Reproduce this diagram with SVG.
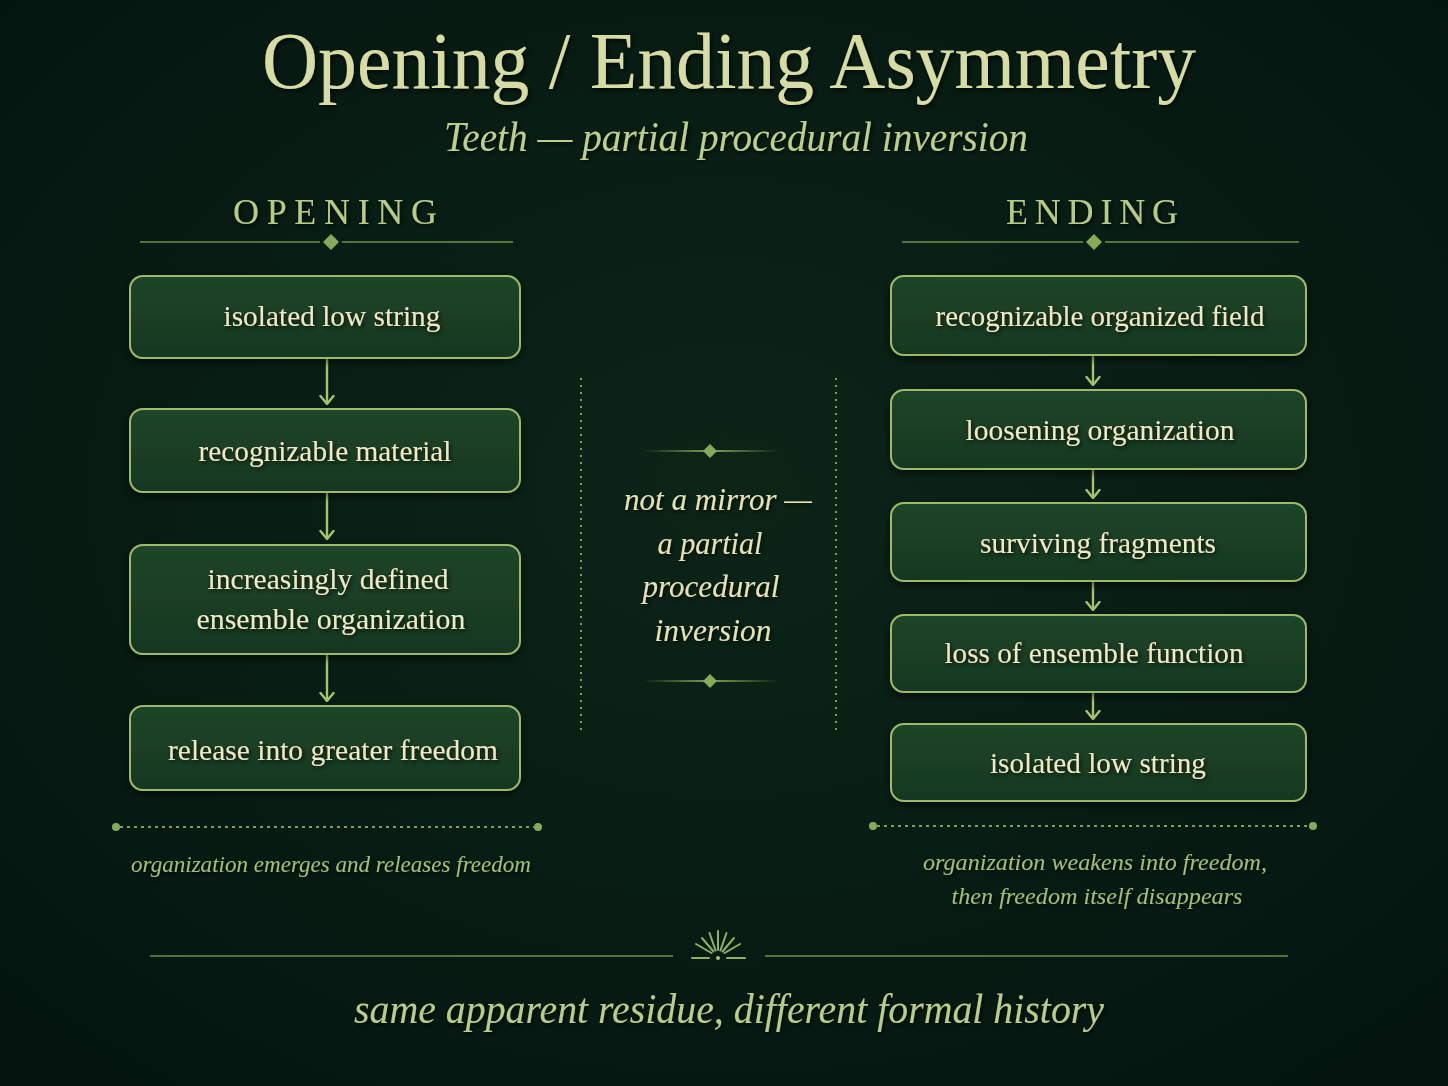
<svg xmlns="http://www.w3.org/2000/svg" width="1448" height="1086" viewBox="0 0 1448 1086">
<defs>
<radialGradient id="bg" cx="50%" cy="45%" r="70%">
<stop offset="0" stop-color="#0c2517"/>
<stop offset="1" stop-color="#041510"/>
</radialGradient>
<linearGradient id="boxg" x1="0" y1="0" x2="0" y2="1">
<stop offset="0" stop-color="#1f4529"/>
<stop offset="1" stop-color="#163820"/>
</linearGradient>
<linearGradient id="fadeL" x1="0" y1="0" x2="1" y2="0">
<stop offset="0" stop-color="#7fa055" stop-opacity="0"/>
<stop offset="0.5" stop-color="#7fa055"/>
<stop offset="1" stop-color="#7fa055" stop-opacity="0"/>
</linearGradient>
<filter id="sh" x="-10%" y="-30%" width="120%" height="160%">
<feDropShadow dx="1.5" dy="2" stdDeviation="2" flood-color="#000" flood-opacity="0.75"/>
</filter>
<filter id="bsh" x="-10%" y="-20%" width="120%" height="150%">
<feDropShadow dx="0" dy="3" stdDeviation="4" flood-color="#000" flood-opacity="0.6"/>
</filter>
<marker id="ah" viewBox="0 0 10 16" refX="9" refY="8" markerWidth="10" markerHeight="16" markerUnits="userSpaceOnUse" orient="auto">
<path d="M1,1.5 L9,8 L1,14.5" fill="none" stroke="#a9c26f" stroke-width="2.4" stroke-linecap="round" stroke-linejoin="round"/>
</marker>
<style>
.box{fill:url(#boxg);stroke:#9cba6a;stroke-width:2;filter:url(#bsh)}
.bt{font-family:"Liberation Serif","DejaVu Serif",serif;font-size:30px;fill:#f0e9c6;text-anchor:middle;filter:url(#sh)}
.title{font-family:"Liberation Serif","DejaVu Serif",serif;font-size:80px;fill:#d6dca4;text-anchor:middle;filter:url(#sh)}
.sub{font-family:"Liberation Serif","DejaVu Serif",serif;font-style:italic;font-size:42px;fill:#bccf8c;text-anchor:middle;filter:url(#sh)}
.hd{font-family:"Liberation Serif","DejaVu Serif",serif;font-size:36px;fill:#b6cc84;text-anchor:middle;filter:url(#sh)}
.mid{font-family:"Liberation Serif","DejaVu Serif",serif;font-style:italic;font-size:31px;fill:#e6e2b6;text-anchor:middle;filter:url(#sh)}
.cap{font-family:"Liberation Serif","DejaVu Serif",serif;font-style:italic;font-size:24px;fill:#a3bf74;text-anchor:middle;filter:url(#sh)}
.fin{font-family:"Liberation Serif","DejaVu Serif",serif;font-style:italic;font-size:42px;fill:#b9cd8a;text-anchor:middle;filter:url(#sh)}
.rule{stroke:#6f9049;stroke-width:1.6;fill:none}
.dia{fill:#86aa5c}
.arr{stroke:#a9c26f;stroke-width:2.4;fill:none;marker-end:url(#ah)}
.vdot{stroke:#7f9f52;stroke-width:2;stroke-dasharray:2 5;fill:none}
.hdot{stroke:#7f9f52;stroke-width:2;stroke-dasharray:3 4;fill:none}
.end{fill:#86aa5c}
.ray{stroke:#8fb15f;stroke-width:2;stroke-linecap:round}
</style>
</defs>
<rect width="1448" height="1086" fill="url(#bg)"/>

<g id="header">
<text class="title" x="729" y="88" textLength="934" lengthAdjust="spacingAndGlyphs">Opening / Ending Asymmetry</text>
<text class="sub" x="736" y="151" textLength="584" lengthAdjust="spacingAndGlyphs">Teeth — partial procedural inversion</text>
</g>

<g id="opening-header">
<text class="hd" x="335" y="224" textLength="204" lengthAdjust="spacing">OPENING</text>
<line class="rule" x1="140" y1="242" x2="320" y2="242"/>
<line class="rule" x1="342" y1="242" x2="513" y2="242"/>
<path class="dia" d="M331,234 L339,242 L331,250 L323,242 Z"/>
</g>
<g id="ending-header">
<text class="hd" x="1092" y="224" textLength="172" lengthAdjust="spacing">ENDING</text>
<line class="rule" x1="902" y1="242" x2="1083" y2="242"/>
<line class="rule" x1="1105" y1="242" x2="1299" y2="242"/>
<path class="dia" d="M1094,234 L1102,242 L1094,250 L1086,242 Z"/>
</g>

<g id="connectors">
<line class="arr" x1="327" y1="359" x2="327" y2="404"/>
<line class="arr" x1="327" y1="493" x2="327" y2="539"/>
<line class="arr" x1="327" y1="655" x2="327" y2="701"/>
<line class="arr" x1="1093" y1="356" x2="1093" y2="385"/>
<line class="arr" x1="1093" y1="470" x2="1093" y2="498"/>
<line class="arr" x1="1093" y1="582" x2="1093" y2="610"/>
<line class="arr" x1="1093" y1="693" x2="1093" y2="719"/>
</g>

<g id="o1"><rect class="box" x="130" y="276" width="390" height="82" rx="13"/>
<text class="bt" x="332" y="326" textLength="217" lengthAdjust="spacingAndGlyphs">isolated low string</text></g>
<g id="o2"><rect class="box" x="130" y="409" width="390" height="83" rx="13"/>
<text class="bt" x="325" y="461" textLength="253" lengthAdjust="spacingAndGlyphs">recognizable material</text></g>
<g id="o3"><rect class="box" x="130" y="545" width="390" height="109" rx="13"/>
<text class="bt" x="328" y="589" textLength="241" lengthAdjust="spacingAndGlyphs">increasingly defined</text>
<text class="bt" x="331" y="629" textLength="269" lengthAdjust="spacingAndGlyphs">ensemble organization</text></g>
<g id="o4"><rect class="box" x="130" y="706" width="390" height="84" rx="13"/>
<text class="bt" x="333" y="760" textLength="330" lengthAdjust="spacingAndGlyphs">release into greater freedom</text></g>

<g id="e1"><rect class="box" x="891" y="276" width="415" height="79" rx="13"/>
<text class="bt" x="1100" y="326" textLength="329" lengthAdjust="spacingAndGlyphs">recognizable organized field</text></g>
<g id="e2"><rect class="box" x="891" y="390" width="415" height="79" rx="13"/>
<text class="bt" x="1100" y="440" textLength="269" lengthAdjust="spacingAndGlyphs">loosening organization</text></g>
<g id="e3"><rect class="box" x="891" y="503" width="415" height="78" rx="13"/>
<text class="bt" x="1098" y="553" textLength="236" lengthAdjust="spacingAndGlyphs">surviving fragments</text></g>
<g id="e4"><rect class="box" x="891" y="615" width="415" height="77" rx="13"/>
<text class="bt" x="1094" y="663" textLength="299" lengthAdjust="spacingAndGlyphs">loss of ensemble function</text></g>
<g id="e5"><rect class="box" x="891" y="724" width="415" height="77" rx="13"/>
<text class="bt" x="1098" y="773" textLength="216" lengthAdjust="spacingAndGlyphs">isolated low string</text></g>

<g id="middle">
<line class="vdot" x1="581" y1="378" x2="581" y2="731"/>
<line class="vdot" x1="836" y1="378" x2="836" y2="731"/>
<rect x="643" y="450" width="136" height="2" fill="url(#fadeL)"/>
<path class="dia" d="M710,444 L717,451 L710,458 L703,451 Z"/>
<text class="mid" x="718" y="510" textLength="188" lengthAdjust="spacingAndGlyphs">not a mirror —</text>
<text class="mid" x="710" y="554" textLength="105" lengthAdjust="spacingAndGlyphs">a partial</text>
<text class="mid" x="711" y="597" textLength="137" lengthAdjust="spacingAndGlyphs">procedural</text>
<text class="mid" x="713" y="641" textLength="117" lengthAdjust="spacingAndGlyphs">inversion</text>
<rect x="643" y="680" width="136" height="2" fill="url(#fadeL)"/>
<path class="dia" d="M710,674 L717,681 L710,688 L703,681 Z"/>
</g>

<g id="opening-caption">
<line class="hdot" x1="120" y1="827" x2="534" y2="827"/>
<circle class="end" cx="116" cy="827" r="4"/>
<circle class="end" cx="538" cy="827" r="4"/>
<text class="cap" x="331" y="872" textLength="400" lengthAdjust="spacingAndGlyphs">organization emerges and releases freedom</text>
</g>
<g id="ending-caption">
<line class="hdot" x1="877" y1="826" x2="1309" y2="826"/>
<circle class="end" cx="873" cy="826" r="4"/>
<circle class="end" cx="1313" cy="826" r="4"/>
<text class="cap" x="1095" y="870" textLength="344" lengthAdjust="spacingAndGlyphs">organization weakens into freedom,</text>
<text class="cap" x="1097" y="904" textLength="291" lengthAdjust="spacingAndGlyphs">then freedom itself disappears</text>
</g>

<g id="footer">
<line class="rule" x1="150" y1="956" x2="673" y2="956"/>
<line class="rule" x1="765" y1="956" x2="1288" y2="956"/>
<g class="ray">
<line x1="718" y1="950" x2="718" y2="931"/>
<line x1="715.6" y1="950.5" x2="709.5" y2="933"/>
<line x1="720.4" y1="950.5" x2="726.5" y2="933"/>
<line x1="713.5" y1="951.5" x2="702" y2="938"/>
<line x1="722.5" y1="951.5" x2="734" y2="938"/>
<line x1="711.5" y1="953" x2="696" y2="944"/>
<line x1="724.5" y1="953" x2="740" y2="944"/>
<line x1="692" y1="958" x2="709" y2="958"/>
<line x1="727" y1="958" x2="745" y2="958"/>
</g>
<circle cx="718" cy="958" r="2" fill="#a9c26f"/>
<text class="fin" x="729" y="1023" textLength="750" lengthAdjust="spacingAndGlyphs">same apparent residue, different formal history</text>
</g>
</svg>
